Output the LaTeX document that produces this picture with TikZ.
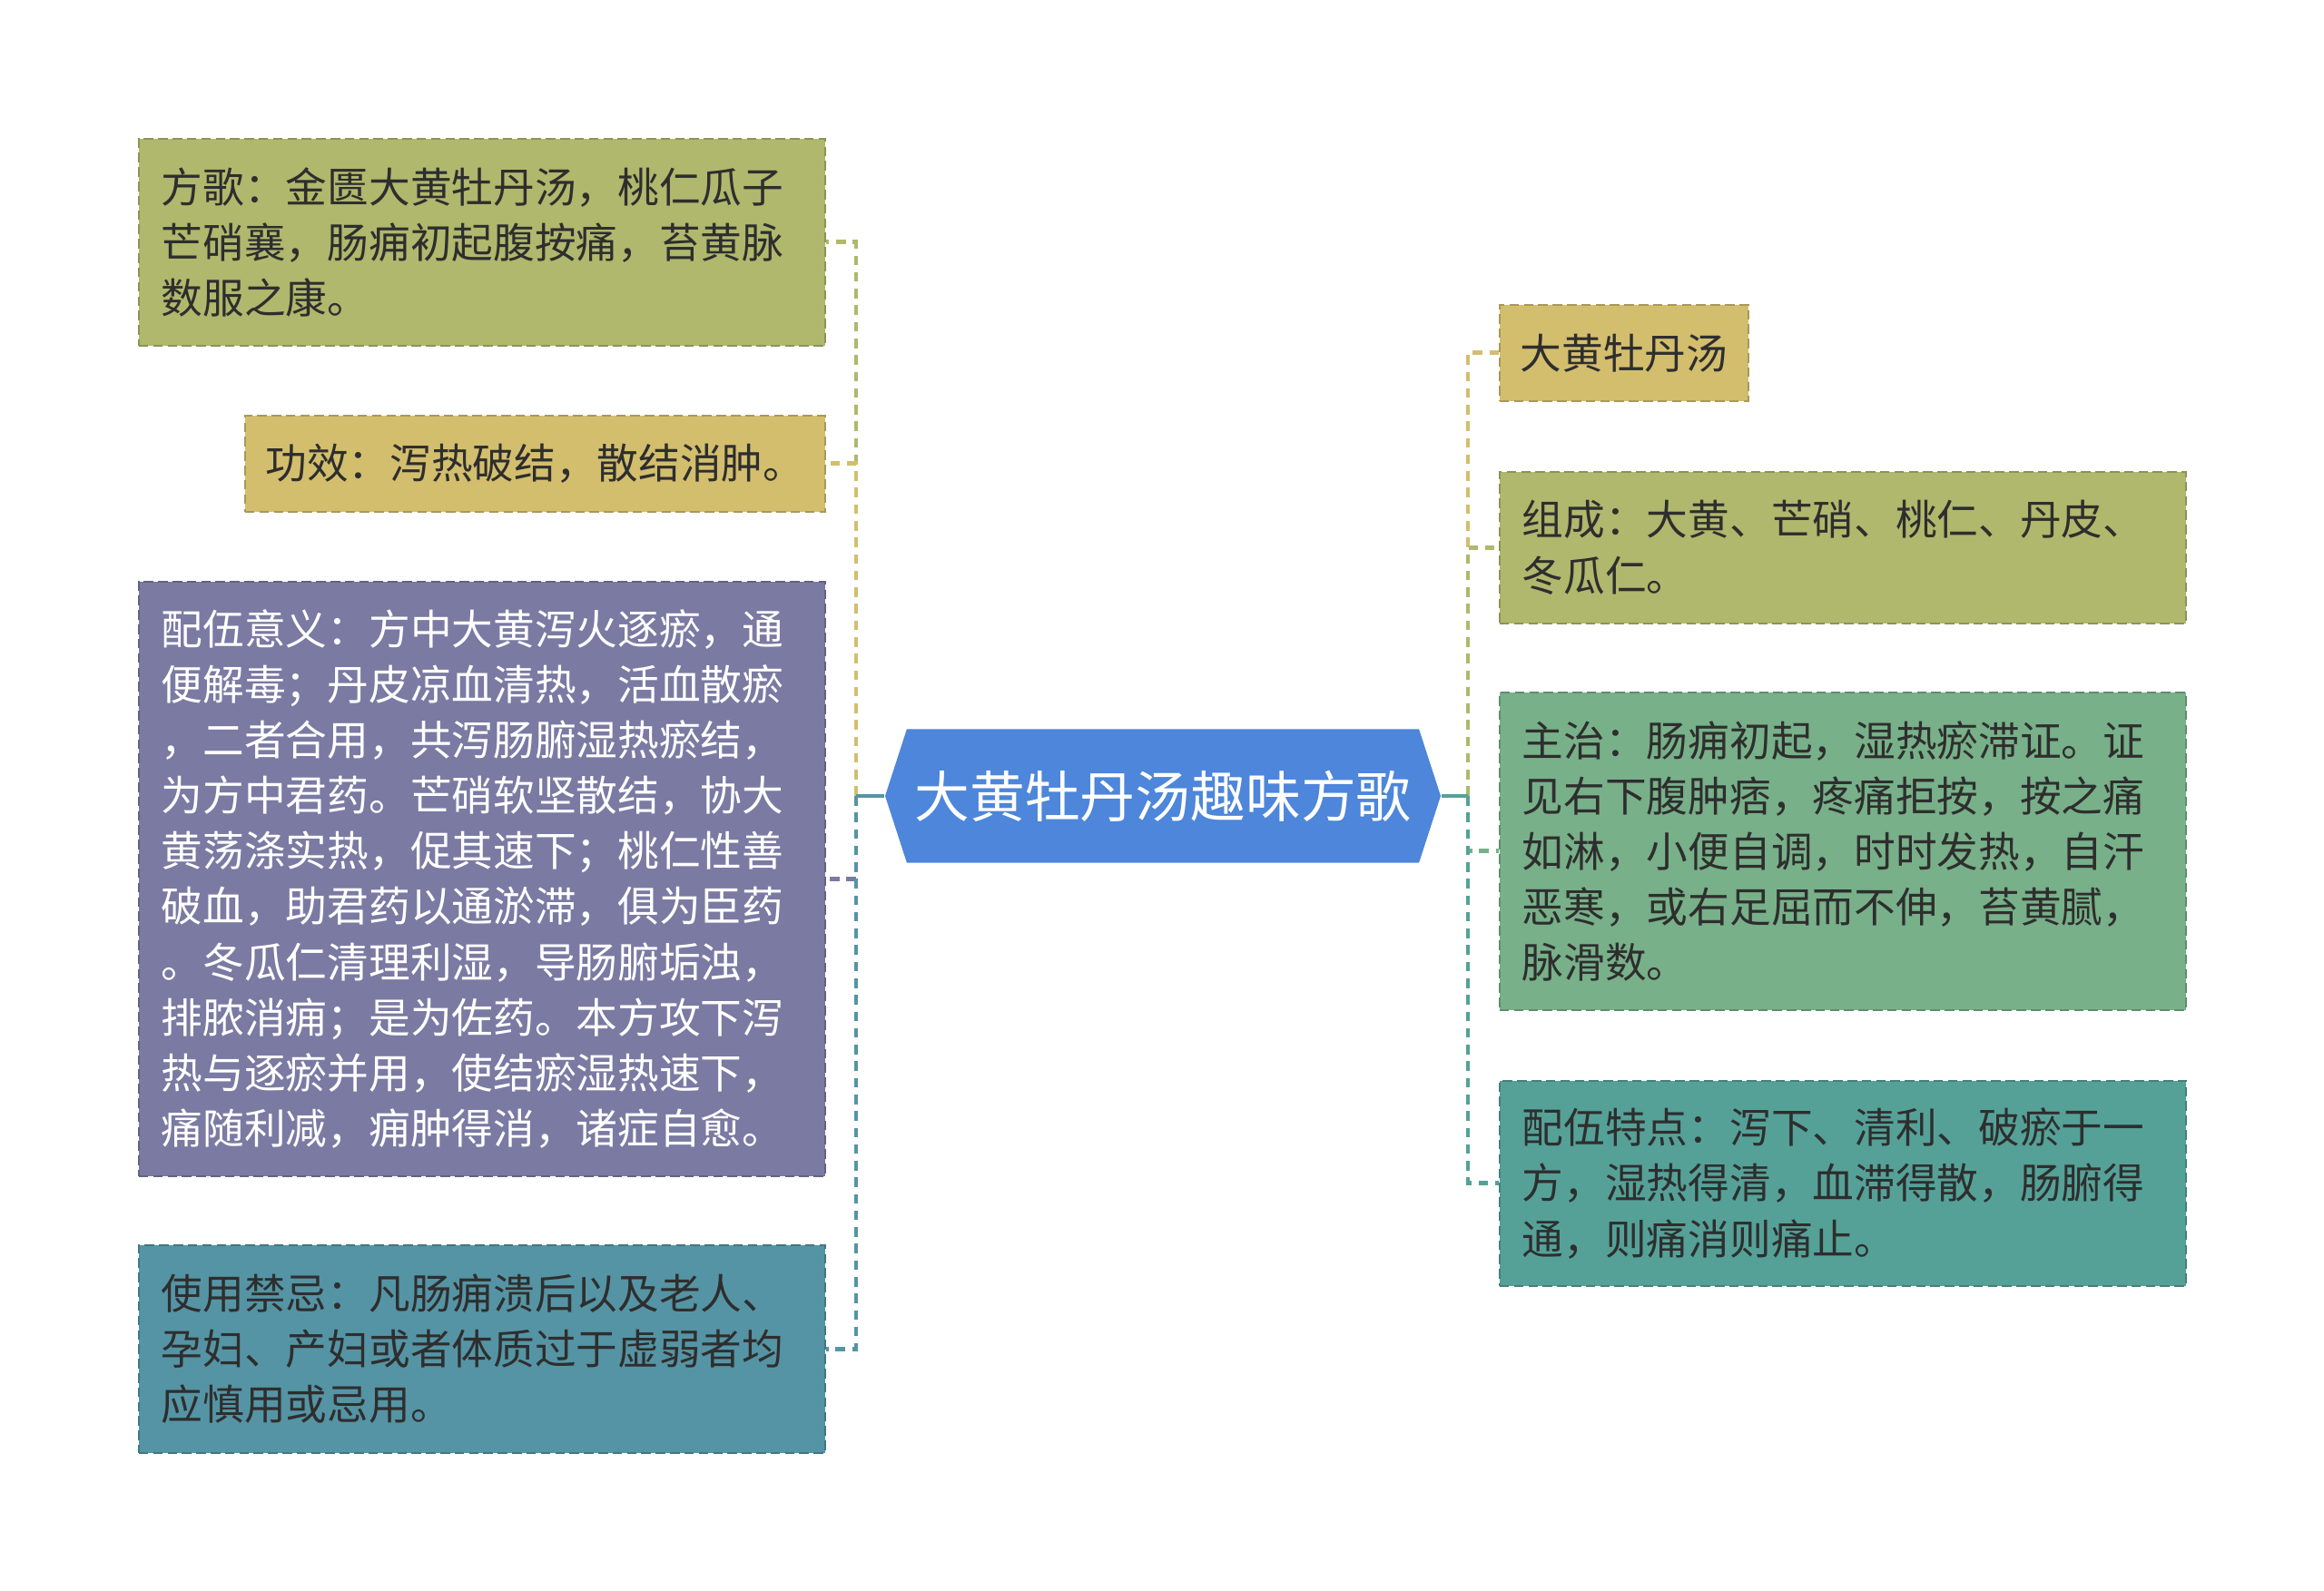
\documentclass[tikz,border=0pt]{standalone}
\usepackage{fontspec}
\newfontfamily\cjk{Noto Sans CJK SC}
\usetikzlibrary{shapes.symbols}
\definecolor{hubblue}{HTML}{4D86DA}
\definecolor{boxolive}{HTML}{AFB86C}
\definecolor{boxtan}{HTML}{D3BE6E}
\definecolor{boxpurple}{HTML}{7A7AA3}
\definecolor{boxteal}{HTML}{5594A4}
\definecolor{boxgreen}{HTML}{78B089}
\definecolor{boxsea}{HTML}{55A198}
\definecolor{textdark}{HTML}{2E2E2E}
\begin{document}
\begin{tikzpicture}[every node/.style={font=\cjk\fontsize{13pt}{17.4pt}\selectfont, text=textdark},
				box/.style={draw=#1!80!black, fill=#1, dash pattern=on 3pt off 1.5pt, line width=0.5pt,
					anchor=north west, align=left, inner xsep=0.25cm, inner ysep=0pt},
				hub/.style={shape=signal, signal to=west and east, signal pointer angle=144,
					fill=hubblue, minimum width=6.12cm, minimum height=1.47cm, inner xsep=0pt,
					text=white, font=\cjk\fontsize{17.3pt}{20pt}\selectfont},
				link/.style={draw=#1, line width=1.4pt, dash pattern=on 3pt off 2.2pt}]
\useasboundingbox (0,0) rectangle (25.6,-17.53);
\node[hub] (hub) at (12.81,-8.77) {大黄牡丹汤趣味方歌};
\coordinate (lhub) at (9.43,-8.77);
\coordinate (rhub) at (16.17,-8.77);
% left side
\node[box=boxolive, text width=7.06cm, minimum height=2.28cm] (fangge) at (1.52,-1.52)
	{方歌：金匮大黄牡丹汤，桃仁瓜子\\芒硝襄，肠痈初起腹按痛，苔黄脉\\数服之康。};
\node[box=boxtan, inner xsep=0.2cm, minimum width=6.39cm, minimum height=1.06cm] (gongxiao) at (2.69,-4.57)
	{功效：泻热破结，散结消肿。};
\node[box=boxpurple, text=white, text width=7.06cm, minimum height=6.55cm] (peiwu) at (1.52,-6.40)
	{配伍意义：方中大黄泻火逐瘀，通\\便解毒；丹皮凉血清热，活血散瘀\\，二者合用，共泻肠腑湿热瘀结，\\为方中君药。芒硝软坚散结，协大\\黄荡涤实热，促其速下；桃仁性善\\破血，助君药以通淤滞，俱为臣药\\。冬瓜仁清理利湿，导肠腑垢浊，\\排脓消痈；是为佐药。本方攻下泻\\热与逐瘀并用，使结瘀湿热速下，\\痛随利减，痈肿得消，诸症自愈。};
\node[box=boxteal, text width=7.06cm, minimum height=2.29cm] (jinji) at (1.52,-13.71)
	{使用禁忌：凡肠痈溃后以及老人、\\孕妇、产妇或者体质过于虚弱者均\\应慎用或忌用。};
% right side
\node[box=boxtan, inner xsep=0.2cm, minimum width=2.74cm, minimum height=1.06cm] (name) at (16.51,-3.35)
	{大黄牡丹汤};
\node[box=boxolive, text width=7.06cm, minimum height=1.67cm] (zucheng) at (16.51,-5.19)
	{组成：大黄、芒硝、桃仁、丹皮、\\冬瓜仁。};
\node[box=boxgreen, text width=7.06cm, minimum height=3.50cm] (zhuzhi) at (16.51,-7.62)
	{主治：肠痈初起，湿热瘀滞证。证\\见右下腹肿痞，疼痛拒按，按之痛\\如淋，小便自调，时时发热，自汗\\恶寒，或右足屈而不伸，苔黄腻，\\脉滑数。};
\node[box=boxsea, text width=7.06cm, minimum height=2.26cm] (tedian) at (16.51,-11.90)
	{配伍特点：泻下、清利、破瘀于一\\方，湿热得清，血滞得散，肠腑得\\通，则痛消则痛止。};
% connectors
\draw[link=boxolive] (lhub) |- (fangge.east);
\draw[link=boxtan] (lhub) |- (gongxiao.east);
\draw[link=boxpurple] (lhub) |- (peiwu.east);
\draw[link=boxteal] (lhub) |- (jinji.east);
\draw[link=boxteal, solid] (hub.west) -- (lhub);
\draw[link=boxtan] (rhub) |- (name.west);
\draw[link=boxolive] (rhub) |- (zucheng.west);
\draw[link=boxgreen] (rhub) |- (zhuzhi.west);
\draw[link=boxsea] (rhub) |- (tedian.west);
\draw[link=boxsea, solid] (hub.east) -- (rhub);
\end{tikzpicture}
\end{document}
